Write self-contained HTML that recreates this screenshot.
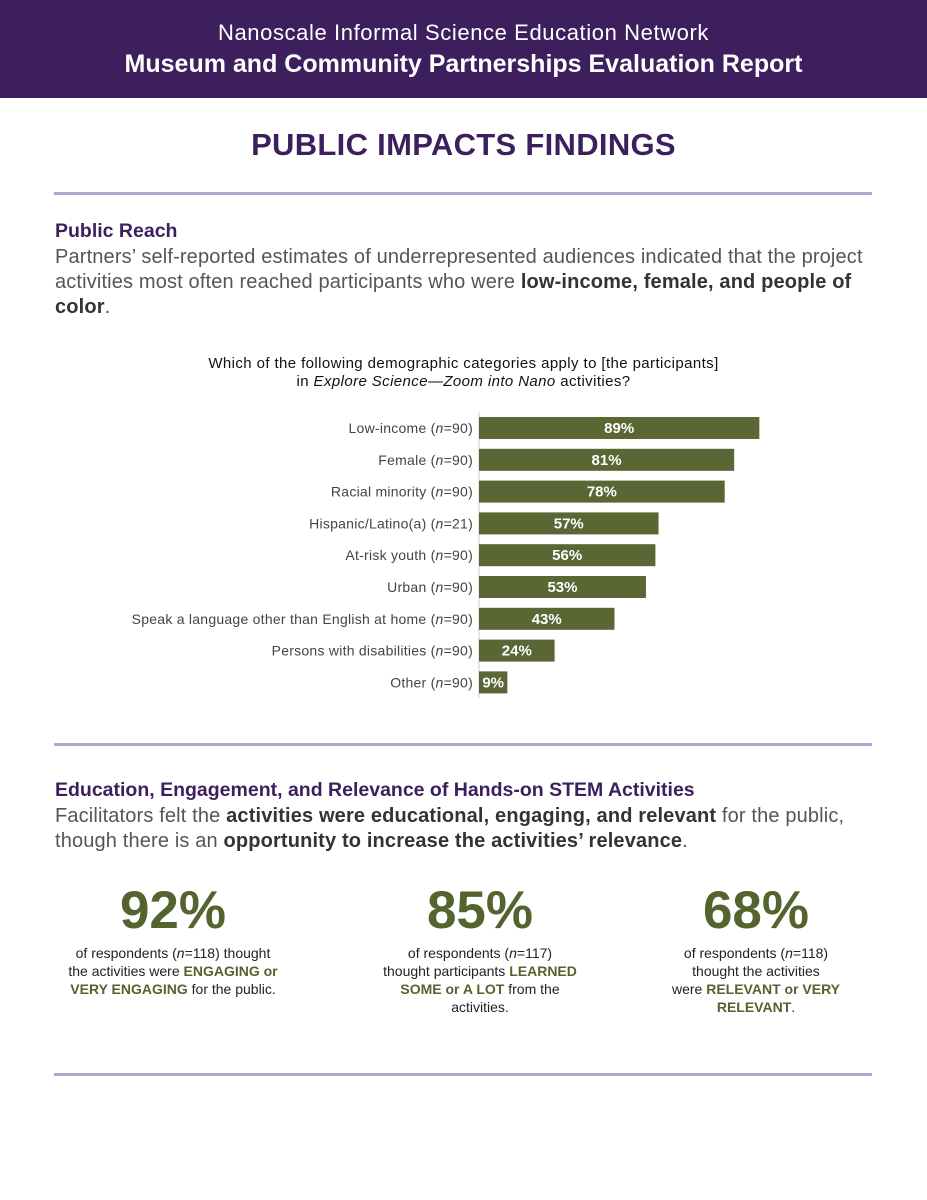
<!DOCTYPE html>
<html><head><meta charset="utf-8"><style>
*{margin:0;padding:0;box-sizing:border-box}
body{width:927px;height:1200px;background:#fff;font-family:"Liberation Sans",sans-serif;position:relative;overflow:hidden;color:#333}
.abs{position:absolute}
#hdr{left:0;top:0;width:927px;height:98px;background:#3d1f5e;color:#fff;text-align:center}
.rule{height:3px;background:#b3a6cc;left:54px;width:818px}
h2{font-size:19.5px;color:#3d1f5e;font-weight:bold}
.para{font-size:20px;color:#555;line-height:25px;white-space:nowrap;letter-spacing:0.15px}
.para b{color:#333}
.big{font-size:53px;font-weight:bold;color:#55632f;text-align:center;width:300px}
.cap{font-size:14px;color:#222;text-align:center;line-height:18px;width:300px;white-space:nowrap}
.cap b{color:#55632f}
</style></head><body>
<div id="hdr" class="abs">
<div style="position:absolute;top:20px;width:100%;font-size:22px;letter-spacing:0.6px">Nanoscale Informal Science Education Network</div>
<div style="position:absolute;top:50px;width:100%;font-size:25px;font-weight:bold">Museum and Community Partnerships Evaluation Report</div>
</div>
<div class="abs" style="top:127px;width:927px;text-align:center;font-size:31px;font-weight:bold;color:#3d1f5e;letter-spacing:0.3px">PUBLIC IMPACTS FINDINGS</div>
<div class="abs rule" style="top:192px"></div>
<h2 class="abs" style="left:55px;top:220px">Public Reach</h2>
<div class="abs para" style="left:55px;top:245px">Partners’ self-reported estimates of underrepresented audiences indicated that the project<br>activities most often reached participants who were <b>low-income, female, and people of</b><br><b>color</b>.</div>
<div class="abs" style="left:0;top:355px;width:927px;text-align:center;font-size:15px;color:#111;line-height:18px;letter-spacing:0.4px">Which of the following demographic categories apply to [the participants]<br>in <i>Explore Science—Zoom into Nano</i> activities?</div>
<svg class="abs" style="left:0;top:400px" width="927" height="310" id="chart"></svg>
<div class="abs rule" style="top:743px"></div>
<h2 class="abs" style="left:55px;top:779px">Education, Engagement, and Relevance of Hands-on STEM Activities</h2>
<div class="abs para" style="left:55px;top:804px">Facilitators felt the <b>activities were educational, engaging, and relevant</b> for the public,<br>though there is an <b>opportunity to increase the activities’ relevance</b>.</div>
<div class="abs big" style="left:23px;top:880px">92%</div>
<div class="abs cap" style="left:23px;top:944px">of respondents (<i>n</i>=118) thought<br>the activities were <b>ENGAGING or</b><br><b>VERY ENGAGING</b> for the public.</div>
<div class="abs big" style="left:330px;top:880px">85%</div>
<div class="abs cap" style="left:330px;top:944px">of respondents (<i>n</i>=117)<br>thought participants <b>LEARNED</b><br><b>SOME or A LOT</b> from the<br>activities.</div>
<div class="abs big" style="left:606px;top:880px">68%</div>
<div class="abs cap" style="left:606px;top:944px">of respondents (<i>n</i>=118)<br>thought the activities<br>were <b>RELEVANT or VERY</b><br><b>RELEVANT</b>.</div>
<div class="abs rule" style="top:1073px"></div>
<script>
const categories=["Low-income","Female","Racial minority","Hispanic/Latino(a)","At-risk youth","Urban","Speak a language other than English at home","Persons with disabilities","Other"];
const sampleSizes=[90,90,90,21,90,90,90,90,90];
const values=[89,81,78,57,56,53,43,24,9];
const svg=document.getElementById('chart');
const NS='http://www.w3.org/2000/svg';
const x0=479,pxPer=3.15,y0=28,pitch=31.8,bh=22;
const xs=v=>v*pxPer, ys=i=>y0+i*pitch;
const ax=document.createElementNS(NS,'line');
ax.setAttribute('x1',x0);ax.setAttribute('x2',x0);ax.setAttribute('y1',12);ax.setAttribute('y2',298);
ax.setAttribute('stroke','#ccc');


svg.appendChild(ax);
categories.forEach((c,i)=>{
 const cy=ys(i);
 const r=document.createElementNS(NS,'rect');
 r.setAttribute('x',x0);r.setAttribute('y',cy-bh/2);r.setAttribute('width',xs(values[i]));r.setAttribute('height',bh);r.setAttribute('fill','#5a6633');
 
 
 svg.appendChild(r);
 const t=document.createElementNS(NS,'text');
 t.setAttribute('x',x0+xs(values[i])/2);t.setAttribute('y',cy+5);t.setAttribute('text-anchor','middle');
 t.setAttribute('fill','#fff');t.setAttribute('font-size','15');t.setAttribute('font-weight','bold');t.setAttribute('font-family','Liberation Sans, sans-serif');
 t.textContent=values[i]+'%';
 
 
 svg.appendChild(t);
 const l=document.createElementNS(NS,'text');
 l.setAttribute('x',x0-6);l.setAttribute('y',cy+5);l.setAttribute('text-anchor','end');
 l.setAttribute('fill','#444');l.setAttribute('font-size','14');l.setAttribute('letter-spacing','0.25');l.setAttribute('font-family','Liberation Sans, sans-serif');
 l.innerHTML=c+' (<tspan font-style="italic">n</tspan>='+sampleSizes[i]+')';
 
 
 svg.appendChild(l);
});
</script>
</body></html>
